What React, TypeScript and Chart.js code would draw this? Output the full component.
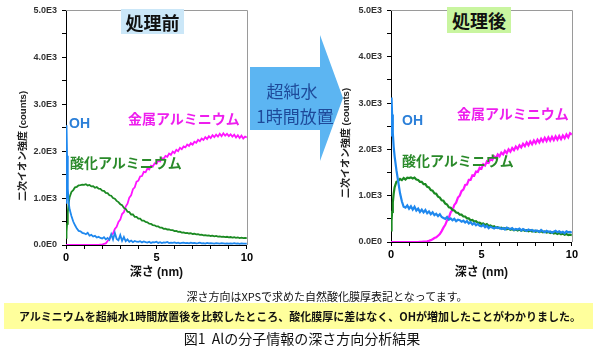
import React, { useEffect, useRef } from "react";
import { Chart, registerables } from "chart.js";

Chart.register(...registerables);

// depth (nm)
const depth = [
  0, 0.03, 0.06, 0.1, 0.15,
  0.2, 0.3, 0.4, 0.5, 0.6, 0.7, 0.8, 0.9,
  1, 1.1, 1.2, 1.3, 1.4, 1.5, 1.6, 1.7, 1.8, 1.9,
  2, 2.1, 2.2, 2.3, 2.4, 2.5, 2.6, 2.7, 2.8, 2.9,
  3, 3.1, 3.2, 3.3, 3.4, 3.5, 3.6, 3.7, 3.8, 3.9,
  4, 4.1, 4.2, 4.3, 4.4, 4.5, 4.6, 4.7, 4.8, 4.9,
  5, 5.1, 5.2, 5.3, 5.4, 5.5, 5.6, 5.7, 5.8, 5.9,
  6, 6.1, 6.2, 6.3, 6.4, 6.5, 6.6, 6.7, 6.8, 6.9,
  7, 7.1, 7.2, 7.3, 7.4, 7.5, 7.6, 7.7, 7.8, 7.9,
  8, 8.1, 8.2, 8.3, 8.4, 8.5, 8.6, 8.7, 8.8, 8.9,
  9, 9.1, 9.2, 9.3, 9.4, 9.5, 9.6, 9.7, 9.8, 9.9,
  10,
];

// 処理前
const beforeOH = [
  900, 2550, 1900, 1200, 900,
  760, 620, 500, 420, 350, 300, 290, 260,
  250, 230, 260, 200, 215, 180, 195, 160, 175, 150,
  140, 165, 120, 150, 110, 230, 120, 260, 130, 100,
  210, 90, 170, 80, 120, 70, 95, 60, 85, 70,
  65, 80, 55, 75, 60, 50, 70, 45, 60, 55,
  70, 45, 60, 40, 55, 50, 65, 40, 50, 45,
  55, 40, 50, 35, 45, 50, 40, 45, 35, 50,
  40, 45, 35, 40, 50, 35, 40, 30, 45, 35,
  40, 35, 30, 40, 35, 30, 40, 35, 30, 35,
  30, 35, 30, 40, 30, 35, 25, 35, 30, 30,
  30,
];
const beforeOxide = [
  150, 280, 450, 700, 900,
  1020, 1130, 1170, 1230, 1240, 1270, 1275, 1285,
  1280, 1295, 1270, 1280, 1250, 1255, 1220, 1235, 1200, 1195,
  1160, 1155, 1110, 1105, 1060, 1050, 1000, 985, 940, 915,
  870, 850, 790, 770, 710, 700, 650, 650, 600, 600,
  560, 560, 520, 520, 490, 485, 455, 450, 425, 420,
  395, 395, 370, 370, 345, 350, 330, 330, 315, 315,
  295, 300, 280, 285, 265, 270, 255, 260, 245, 250,
  235, 240, 225, 230, 215, 220, 205, 212, 200, 205,
  192, 200, 185, 193, 180, 185, 172, 180, 168, 175,
  162, 170, 158, 165, 152, 160, 148, 158, 145, 152,
  148,
];
const beforeMetal = [
  0, 0, 0, 0, 0,
  0, 0, 0, 0, 0, 0, 0, 0,
  0, 0, 0, 0, 0, 0, 0, 0, 0, 5,
  10, 25, 35, 85, 130, 210, 250, 340, 390, 490,
  540, 660, 700, 820, 880, 1010, 1060, 1190, 1230, 1350,
  1370, 1460, 1470, 1560, 1550, 1630, 1610, 1690, 1670, 1740,
  1730, 1800, 1780, 1850, 1840, 1900, 1880, 1950, 1920, 1990,
  1960, 2030, 2000, 2070, 2040, 2100, 2080, 2140, 2110, 2170,
  2140, 2200, 2180, 2240, 2210, 2270, 2240, 2300, 2260, 2320,
  2280, 2340, 2300, 2350, 2310, 2370, 2320, 2380, 2330, 2370,
  2320, 2360, 2310, 2350, 2290, 2340, 2280, 2330, 2270, 2310,
  2290,
];

// 処理後
const afterOH = [
  2300, 3120, 2750, 2350, 2050,
  1850, 1550, 1300, 1050, 880, 760, 740, 790,
  720, 770, 700, 760, 680, 720, 650, 700, 640, 690,
  620, 660, 600, 640, 580, 610, 560, 600, 540, 520,
  500, 540, 480, 510, 470, 500, 450, 480, 470, 440,
  460, 420, 450, 400, 430, 380, 410, 360, 390, 350,
  340, 370, 320, 350, 300, 330, 310, 290, 320, 300,
  310, 280, 300, 270, 310, 290, 280, 300, 260, 280,
  270, 290, 250, 280, 260, 240, 270, 250, 260, 230,
  250, 240, 220, 260, 230, 210, 240, 220, 230, 200,
  220, 240, 210, 230, 200, 220, 190, 230, 210, 220,
  200,
];
const afterOxide = [
  250, 450, 650, 850, 1050,
  1180, 1300, 1320, 1360, 1335, 1380, 1350, 1390,
  1380, 1395, 1370, 1390, 1350, 1340, 1300, 1300, 1250, 1250,
  1190, 1180, 1120, 1110, 1050, 1040, 980, 960, 900, 890,
  830, 810, 750, 740, 690, 680, 635, 630, 590, 590,
  550, 550, 510, 510, 470, 475, 440, 450, 415, 420,
  390, 400, 365, 385, 345, 355, 325, 340, 310, 320,
  295, 310, 285, 300, 275, 290, 265, 280, 255, 272,
  250, 268, 245, 262, 240, 255, 232, 250, 225, 242,
  220, 238, 215, 232, 208, 225, 202, 218, 195, 210,
  185, 200, 175, 192, 165, 182, 158, 172, 148, 160,
  145,
];
const afterMetal = [
  0, 0, 0, 0, 0,
  0, 0, 0, 0, 0, 0, 0, 0,
  0, 0, 0, 0, 0, 0, 5, 5, 10, 10,
  15, 25, 40, 60, 85, 100, 135, 170, 235, 310,
  370, 470, 530, 640, 690, 800, 850, 960, 1000, 1100,
  1130, 1230, 1240, 1340, 1340, 1440, 1430, 1520, 1510, 1600,
  1580, 1680, 1650, 1740, 1710, 1800, 1770, 1850, 1810, 1890,
  1850, 1930, 1890, 1970, 1920, 2000, 1950, 2030, 1980, 2060,
  2010, 2090, 2040, 2120, 2070, 2150, 2090, 2170, 2110, 2190,
  2130, 2210, 2150, 2230, 2170, 2250, 2180, 2260, 2190, 2270,
  2200, 2280, 2210, 2290, 2220, 2300, 2240, 2320, 2260, 2350,
  2320,
];

const yMajorTicks = [0, 1000, 2000, 3000, 4000, 5000];
const xLabelTicks = [0, 5, 10];

const FONT = "'Liberation Sans', 'Noto Sans CJK JP', sans-serif";
const CJK = "'Noto Sans CJK JP', 'Liberation Sans', sans-serif";

const BLUE = "#1f88ee";
const GREEN = "#1b8a22";
const MAGENTA = "#ff14ff";

function fmtY(v: number) {
  if (v === 0) return "0.0E0";
  return (v / 1000).toFixed(1) + "E3";
}

const framePlugin = {
  id: "frame",
  beforeDatasetsDraw(chart: any) {
    const { ctx, chartArea } = chart;
    const { left, top, right, bottom } = chartArea;
    ctx.save();
    ctx.strokeStyle = "#9a9a9a";
    ctx.lineWidth = 1;
    ctx.beginPath();
    ctx.moveTo(left, Math.round(top) + 0.5);
    ctx.lineTo(Math.round(right) + 0.5, Math.round(top) + 0.5);
    ctx.lineTo(Math.round(right) + 0.5, bottom);
    ctx.stroke();
    ctx.restore();
  },
};

type ChartProps = {
  oh: number[];
  oxide: number[];
  metal: number[];
  left: number;
  xAxisHeight: number;
  lineWidth: number;
};

function DepthChart({ oh, oxide, metal, left, xAxisHeight, lineWidth }: ChartProps) {
  const ref = useRef<HTMLCanvasElement>(null);
  useEffect(() => {
    const toPts = (arr: number[]) => depth.map((d, i) => ({ x: d, y: arr[i] }));
    const ds = (label: string, arr: number[], color: string) => ({
      label,
      data: toPts(arr),
      borderColor: color,
      backgroundColor: color,
      borderWidth: lineWidth,
      pointRadius: 0,
      tension: 0,
      fill: false,
    });
    const chart = new Chart(ref.current as HTMLCanvasElement, {
      type: "line",
      data: {
        datasets: [
          ds("OH", oh, BLUE),
          ds("酸化アルミニウム", oxide, GREEN),
          ds("金属アルミニウム", metal, MAGENTA),
        ],
      },
      options: {
        animation: false,
        responsive: false,
        maintainAspectRatio: false,
        layout: { padding: { top: 5, right: 8, left: 0, bottom: 0 } },
        plugins: { legend: { display: false }, tooltip: { enabled: false } },
        scales: {
          x: {
            type: "linear",
            min: 0,
            max: 10,
            afterFit: (s: any) => {
              s.height = xAxisHeight;
            },
            ticks: {
              stepSize: 1,
              autoSkip: false,
              maxRotation: 0,
              padding: 2,
              color: "#000",
              font: { family: FONT, size: 11, weight: "bold" },
              callback: (v: any) => (xLabelTicks.includes(Number(v)) ? String(v) : ""),
            },
            grid: {
              display: true,
              drawOnChartArea: false,
              drawTicks: true,
              tickLength: 4,
              color: "#000",
              tickColor: "#000",
            },
            border: { display: true, color: "#000", width: 1 },
            title: {
              display: true,
              text: "深さ (nm)",
              color: "#111",
              font: { family: FONT, size: 12, weight: "bold" },
              padding: { top: 0, bottom: 10 },
            },
          },
          y: {
            type: "linear",
            min: 0,
            max: 5000,
            afterFit: (s: any) => {
              s.width = 66;
            },
            ticks: {
              stepSize: 500,
              autoSkip: false,
              padding: 5,
              color: "#333",
              font: { family: FONT, size: 9, weight: "bold" },
              callback: (v: any) => (yMajorTicks.includes(Number(v)) ? fmtY(Number(v)) : ""),
            },
            grid: {
              display: true,
              drawOnChartArea: false,
              drawTicks: true,
              tickLength: 4,
              color: "#000",
              tickColor: "#000",
            },
            border: { display: true, color: "#000", width: 1, dash: [1, 1] },
          },
        },
      } as any,
      plugins: [framePlugin],
    });
    return () => chart.destroy();
  }, []);
  return (
    <canvas
      ref={ref}
      width={255}
      height={290}
      style={{ position: "absolute", left, top: 0, width: 255, height: 290 }}
    />
  );
}

function Label({
  text,
  x,
  y,
  color,
  size,
  weight = "bold",
  family = CJK,
}: {
  text: string;
  x: number;
  y: number;
  color: string;
  size: number;
  weight?: string;
  family?: string;
}) {
  return (
    <div
      style={{
        position: "absolute",
        left: x,
        top: y,
        transform: "translateY(-50%)",
        color,
        fontSize: size,
        fontWeight: weight as any,
        fontFamily: family,
        lineHeight: 1,
        whiteSpace: "nowrap",
      }}
    >
      {text}
    </div>
  );
}

function YTitle({ x, y }: { x: number; y: number }) {
  return (
    <div
      style={{
        position: "absolute",
        left: x,
        top: y,
        transform: "translate(-50%, -50%) rotate(-90deg)",
        whiteSpace: "nowrap",
        fontFamily: CJK,
        fontWeight: "bold",
        fontSize: 10,
        color: "#222",
        lineHeight: 1,
      }}
    >
      二次イオン強度<span style={{ fontSize: 9.5, fontFamily: FONT }}> (counts)</span>
    </div>
  );
}

export default function App() {
  return (
    <div
      style={{
        position: "absolute",
        left: 0,
        top: 0,
        width: 600,
        height: 351,
        background: "#fff",
        overflow: "hidden",
      }}
    >
      <DepthChart oh={beforeOH} oxide={beforeOxide} metal={beforeMetal} left={0} xAxisHeight={45} lineWidth={1.8} />
      <DepthChart oh={afterOH} oxide={afterOxide} metal={afterMetal} left={325} xAxisHeight={48} lineWidth={2.2} />

      <YTitle x={22} y={146} />
      <YTitle x={345} y={143} />

      {/* panel titles */}
      <div
        style={{
          position: "absolute",
          left: 121,
          top: 9,
          width: 63,
          height: 25,
          background: "#cbe7f8",
          fontFamily: CJK,
          fontSize: 18,
          fontWeight: "bold",
          color: "#111",
          display: "flex",
          alignItems: "center",
          justifyContent: "center",
        }}
      >
        処理前
      </div>
      <div
        style={{
          position: "absolute",
          left: 447,
          top: 7,
          width: 64,
          height: 26,
          background: "#c9f5a0",
          fontFamily: CJK,
          fontSize: 18,
          fontWeight: "bold",
          color: "#111",
          display: "flex",
          alignItems: "center",
          justifyContent: "center",
        }}
      >
        処理後
      </div>

      {/* in-plot labels */}
      <Label text="OH" x={69} y={123} color="#2b7fd8" size={14} family={FONT} />
      <Label text="金属アルミニウム" x={128} y={118} color="#ee1eee" size={14} />
      <Label text="酸化アルミニウム" x={70} y={162} color="#2a8a2a" size={14} />
      <Label text="OH" x={402} y={120} color="#2b7fd8" size={14} family={FONT} />
      <Label text="金属アルミニウム" x={457} y={113} color="#ee1eee" size={14} />
      <Label text="酸化アルミニウム" x={402} y={160} color="#2a8a2a" size={14} />

      {/* arrow */}
      <svg width={600} height={351} style={{ position: "absolute", left: 0, top: 0, pointerEvents: "none" }}>
        <polygon points="250,67 320,67 320,35 343,98 320,161 320,130 250,130" fill="#5cb5f2" />
      </svg>
      <div
        style={{
          position: "absolute",
          left: 292,
          top: 90,
          transform: "translate(-50%, -50%)",
          fontFamily: CJK,
          fontSize: 17,
          color: "#1e4a9a",
          lineHeight: 1,
          whiteSpace: "nowrap",
        }}
      >
        超純水
      </div>
      <div
        style={{
          position: "absolute",
          left: 295,
          top: 115,
          transform: "translate(-50%, -50%)",
          fontFamily: CJK,
          fontSize: 17,
          color: "#1e4a9a",
          lineHeight: 1,
          whiteSpace: "nowrap",
        }}
      >
        1時間放置
      </div>

      {/* bottom notes */}
      <div
        style={{
          position: "absolute",
          left: 327,
          top: 296,
          transform: "translate(-50%, -50%)",
          fontFamily: CJK,
          fontSize: 11,
          color: "#111",
          lineHeight: 1,
          whiteSpace: "nowrap",
        }}
      >
        深さ方向はXPSで求めた自然酸化膜厚表記となってます。
      </div>
      <div
        style={{
          position: "absolute",
          left: 4,
          top: 303,
          width: 589,
          height: 26,
          background: "#ffff9c",
        }}
      />
      <div
        style={{
          position: "absolute",
          left: 300,
          top: 316,
          transform: "translate(-50%, -50%)",
          fontFamily: CJK,
          fontSize: 11,
          fontWeight: "bold",
          color: "#111",
          lineHeight: 1,
          whiteSpace: "nowrap",
        }}
      >
        アルミニウムを超純水1時間放置後を比較したところ、酸化膜厚に差はなく、OHが増加したことがわかりました。
      </div>
      <div
        style={{
          position: "absolute",
          left: 302,
          top: 338,
          transform: "translate(-50%, -50%)",
          fontFamily: CJK,
          fontSize: 14,
          color: "#111",
          lineHeight: 1,
          whiteSpace: "nowrap",
        }}
      >
        図1&nbsp;&nbsp;Alの分子情報の深さ方向分析結果
      </div>
    </div>
  );
}
